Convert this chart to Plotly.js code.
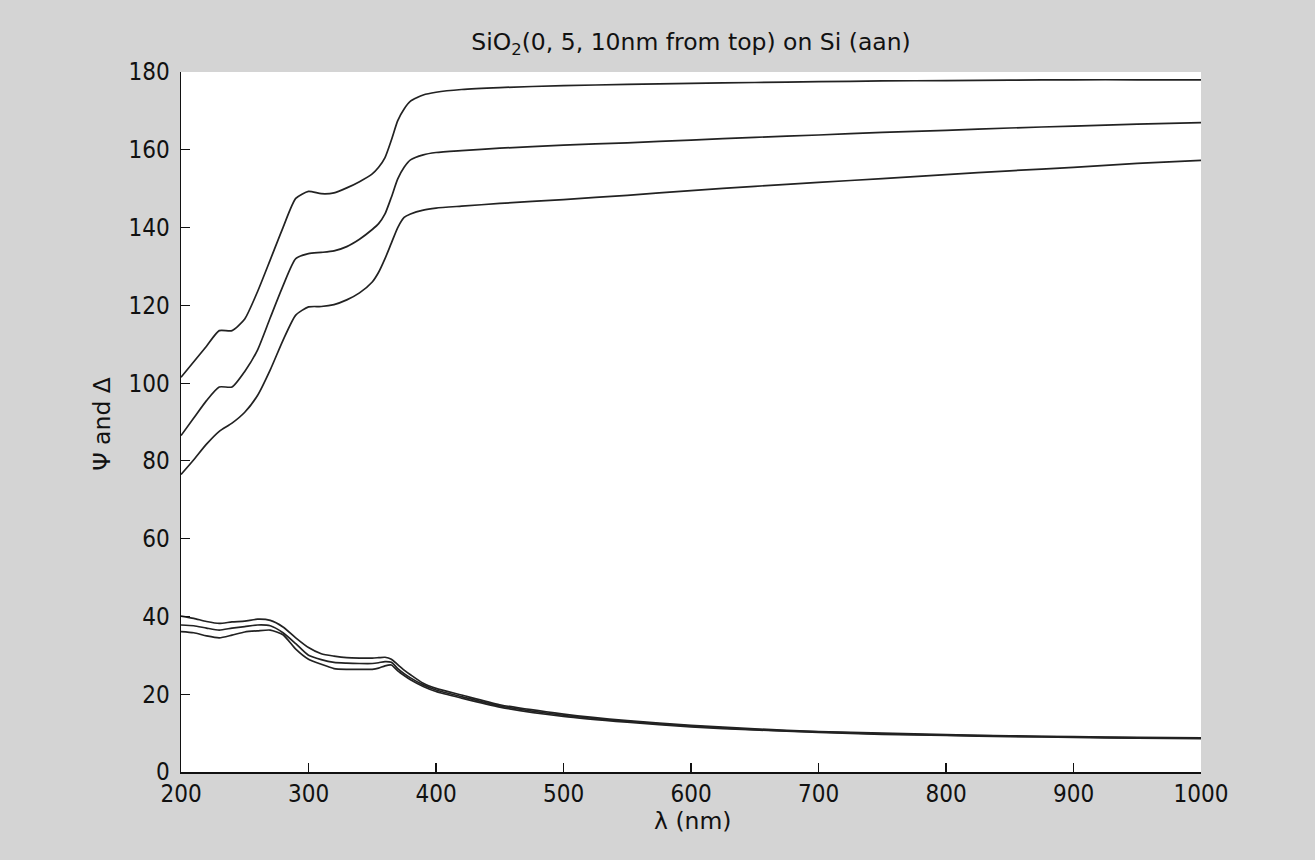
<!DOCTYPE html>
<html>
<head>
<meta charset="utf-8">
<script src="https://cdn.plot.ly/plotly-3.0.1.min.js"></script>
<style>html,body{margin:0;padding:0;background:#d4d4d4;}#chart{width:1315px;height:860px;}</style>
</head>
<body>
<div id="chart"></div>
<script>
const wavelength = [200,210,220,230,240,250,260,270,280,290,300,310,320,330,340,350,355,360,365,370,375,380,390,400,420,450,500,550,600,650,700,750,800,850,900,950,1000];

const delta0 = [101.5,105.5,109.5,113.5,113.5,116.5,123.5,131.7,140,147.5,149.3,148.7,148.9,150.2,151.8,153.8,155.5,158,162.5,167.5,170.5,172.5,174.1,174.8,175.5,176,176.5,176.8,177.1,177.3,177.5,177.7,177.8,177.9,178,178,178];
const delta5 = [86.5,91,95.5,99,99,103,108.5,116.8,125,132,133.3,133.6,134,135.1,137,139.5,141,143.5,147.8,152.5,155.5,157.4,158.7,159.3,159.8,160.4,161.2,161.8,162.5,163.2,163.8,164.5,165,165.6,166.1,166.6,167];
const delta10 = [76.5,80.3,84.3,87.6,89.7,92.5,96.8,103.4,111,117.5,119.6,119.7,120.2,121.4,123.2,126,128.5,132,136,140,142.6,143.5,144.5,145,145.5,146.2,147.2,148.3,149.5,150.6,151.6,152.6,153.6,154.6,155.5,156.5,157.3];

const psi0 = [40.1,39.5,38.7,38.2,38.6,38.8,39.3,39,37.3,34.5,32,30.4,29.8,29.4,29.3,29.3,29.4,29.5,29,27.6,26.2,25,22.8,21.5,19.8,17.3,14.9,13.2,12,11.1,10.4,10,9.6,9.3,9.1,8.9,8.8];
const psi5 = [37.8,37.6,37,36.5,37,37.4,37.8,37.6,35.8,33,30,28.9,28.2,28,27.9,27.9,28.1,28.4,28.2,26.6,25.3,24.2,22.4,21.1,19.4,17,14.6,13,11.8,10.9,10.3,9.8,9.5,9.2,9,8.8,8.7];
const psi10 = [36.1,35.8,35,34.5,35.2,36,36.3,36.5,35.3,31.6,29,27.7,26.6,26.4,26.4,26.4,26.7,27.3,27.5,26,24.8,23.7,22,20.7,19,16.7,14.3,12.8,11.6,10.8,10.2,9.7,9.4,9.1,8.9,8.7,8.6];

const xTicks = [200,300,400,500,600,700,800,900,1000];
const yTicks = [0,20,40,60,80,100,120,140,160,180];

const titleText = 'SiO<sub>2</sub>(0, 5, 10nm from top) on Si (aan)';
const xTitle = 'λ (nm)';
const yTitle = 'Ψ and Δ';

const series = [delta0, delta5, delta10, psi0, psi5, psi10];
const traces = series.map(v => ({
  x: wavelength, y: v, type: 'scatter', mode: 'lines',
  line: {color: '#222222', width: 1.7, shape: 'spline', smoothing: 0.6},
  hoverinfo: 'skip', showlegend: false
}));

const fam = 'DejaVu Sans, sans-serif';
const famC = 'DejaVu Sans Condensed, DejaVu Sans, sans-serif';
const tickFont = {family: famC, size: 24, color: '#111'};
const layout = {
  width: 1315, height: 860,
  paper_bgcolor: '#d4d4d4', plot_bgcolor: '#ffffff',
  margin: {l: 181, r: 114, t: 72, b: 88},
  font: tickFont,
  title: {text: titleText, font: {family: fam, size: 23.5, color: '#111'},
          x: 0.5255, xanchor: 'center', y: 0.951, yanchor: 'middle', yref: 'container'},
  xaxis: {range: [200, 1000], tickvals: xTicks, ticktext: xTicks.map(String), ticks: 'inside', ticklen: 9, tickwidth: 1.2,
          tickcolor: '#111', showline: true, linecolor: '#111', linewidth: 1.5, showgrid: false, zeroline: false, mirror: false,
          tickfont: tickFont, ticklabelstandoff: 0},
  yaxis: {range: [0, 180], tickvals: yTicks, ticktext: yTicks.map(String), ticks: 'inside', ticklen: 9, tickwidth: 1.2,
          tickcolor: '#111', showline: true, linecolor: '#111', linewidth: 1.5, showgrid: false, zeroline: false, mirror: false,
          tickfont: tickFont, ticklabelstandoff: 5},
  annotations: [
    {text: xTitle, xref: 'paper', yref: 'paper', x: 0.502, y: -0.0703, xanchor: 'center', yanchor: 'middle', showarrow: false,
     font: {family: fam, size: 23.5, color: '#111'}},
    {text: yTitle, xref: 'paper', yref: 'paper', x: -0.077, y: 0.498, xanchor: 'center', yanchor: 'middle', showarrow: false,
     textangle: -90, font: {family: fam, size: 23.5, color: '#111'}}
  ]
};
Plotly.newPlot('chart', traces, layout, {displayModeBar: false, staticPlot: true});
</script>
</body>
</html>
